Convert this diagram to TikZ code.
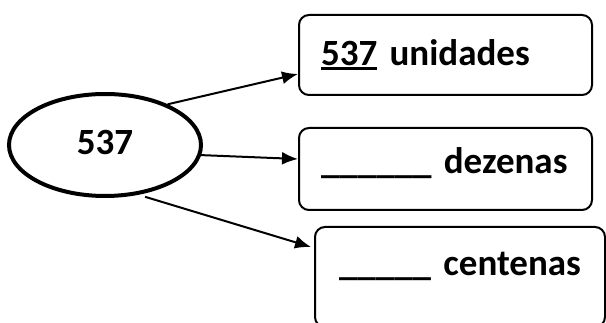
\documentclass[tikz,border=0pt]{standalone}
\usepackage{fontspec}
\setmainfont{Carlito}
\usetikzlibrary{arrows.meta,shapes.geometric}
\newcommand\ulx[1]{\setbox0\hbox{#1}\rlap{\rule[-4pt]{\wd0}{3pt}}\box0\relax}
\tikzset{
  lbl/.style={font=\fontsize{37}{40}\selectfont\bfseries},
  numell/.style={ellipse,draw,line width=4pt,inner sep=0pt,minimum width=192pt,minimum height=102pt,lbl,text depth=6pt},
  valbox/.style={rectangle,draw,line width=2pt,rounded corners=10pt,inner ysep=0pt,align=left,lbl},
  conn/.style={line width=2pt,-{Latex[length=16pt,width=13pt]}}
}
\begin{document}
\begin{tikzpicture}[x=1pt,y=-1pt]
\useasboundingbox (0,0) rectangle (606,323);
\node[numell] (e) at (105,145) {537};
\node[valbox,anchor=north west,inner xsep=22pt,text width=249pt,text height=51pt,text depth=29pt] (b1) at (298,14) {\ulx{537} unidades};
\node[valbox,anchor=north west,inner xsep=22pt,text width=249pt,text height=46pt,text depth=36pt] (b2) at (298,127) {\_\_\_\_\_\_ dezenas};
\node[valbox,anchor=north west,inner xsep=24pt,text width=242pt,text height=49pt,text depth=51pt] (b3) at (314,226) {\_\_\_\_\_ centenas};
\draw[conn] (e.33) -- ([yshift=-19pt]b1.west);
\draw[conn] (e.-6) -- ([yshift=10pt]b2.west);
\draw[conn] ([shift={(2pt,-3pt)}]e.-52) -- ([xshift=-3pt,yshift=30pt]b3.west);
\end{tikzpicture}
\end{document}
